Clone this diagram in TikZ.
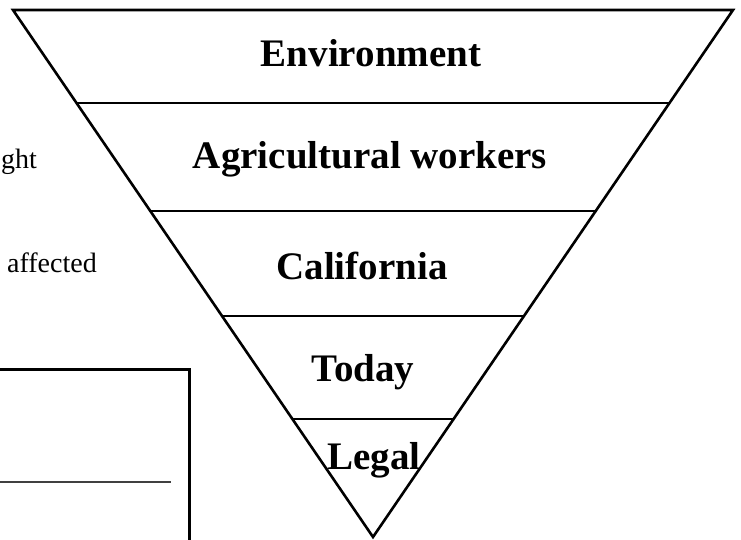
\documentclass[tikz,border=0pt]{standalone}
\usepackage{fontspec}
\setmainfont{Liberation Serif}
\usepackage{tikz}
\usetikzlibrary{calc,positioning}
\tikzstyle{layer} = [font=\fontsize{39}{46}\selectfont\bfseries, inner sep=0pt, anchor=base]
\tikzstyle{side} = [font=\fontsize{28}{33}\selectfont, inner sep=0pt, anchor=base east]
\tikzstyle{cut} = [draw, line width=2.6pt]

\begin{document}
\begin{tikzpicture}[x=1pt, y=-1pt]
  \useasboundingbox (0,0) rectangle (741,539);
  \coordinate (tl) at (13,10);
  \coordinate (tr) at (733,10);
  \coordinate (ap) at (373,537);
  \draw [cut, line join=miter] (tl) -- (tr) -- (ap) -- cycle;
  \draw [cut] ($(tl)!0.1765!(ap)$) -- ($(tr)!0.1765!(ap)$);
  \draw [cut] ($(tl)!0.3814!(ap)$) -- ($(tr)!0.3814!(ap)$);
  \draw [cut] ($(tl)!0.5806!(ap)$) -- ($(tr)!0.5806!(ap)$);
  \draw [cut] ($(tl)!0.7761!(ap)$) -- ($(tr)!0.7761!(ap)$);
  \node [layer] (env) at (371,66) {Environment};
  \node [layer] (agr) at (370,168) {Agricultural workers};
  \node [layer] (cal) at (362,279) {California};
  \node [layer] (tod) at (363,381) {Today};
  \node [layer] (leg) at (374,469) {Legal};
  % cut-off text on the left
  \node [side] (ght) at (37,168) {ght};
  \node [side] (aff) at (97,272) {affected};
  % box in the corner
  \draw [line width=3pt] (0,369) -- (189,369) -- (189,545);
  \draw [line width=1.8pt, black!75] (0,482) -- (171,482);
\end{tikzpicture}
\end{document}
